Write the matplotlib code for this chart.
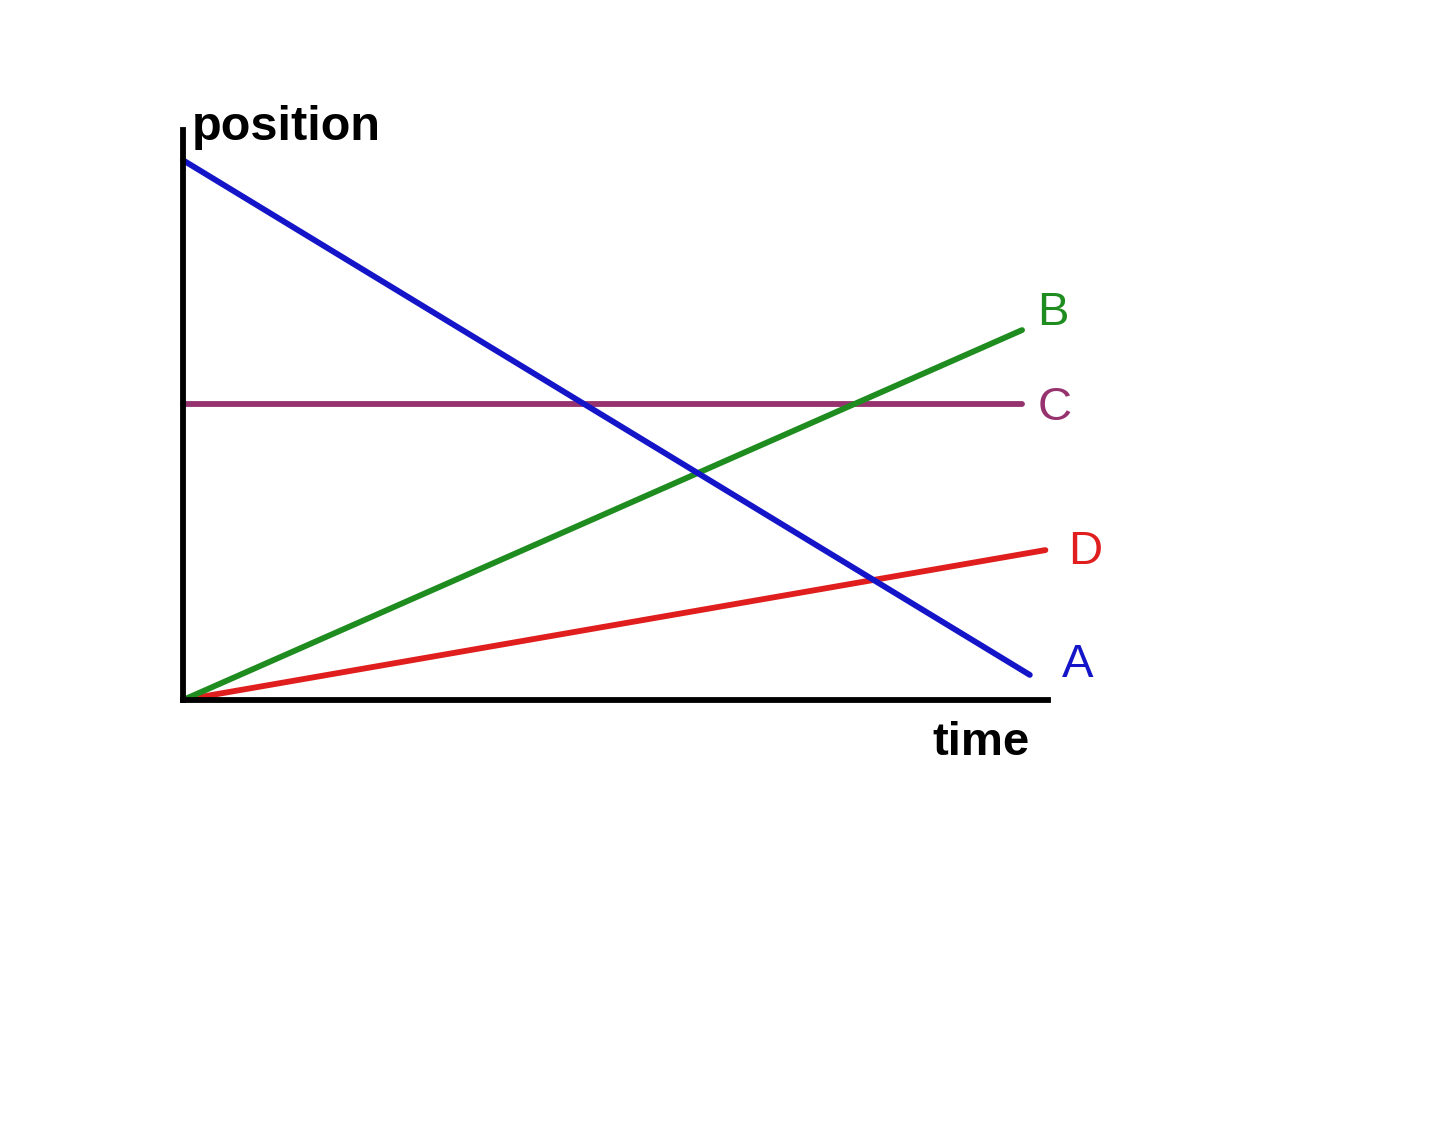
import matplotlib
matplotlib.use("Agg")
import matplotlib.pyplot as plt

# data (time, position) in arbitrary units
series_names = ["A", "B", "C", "D"]
a_time = [0.0, 9.79]
a_pos = [9.47, 0.44]
b_time = [0.0, 9.70]
b_pos = [0.0, 6.49]
c_time = [0.0, 9.70]
c_pos = [5.19, 5.19]
d_time = [0.0, 9.97]
d_pos = [0.0, 2.63]

colors = {"A": "#1414c8", "B": "#1e8c1e", "C": "#96336e", "D": "#e01e1e"}

plt.rcParams['font.family'] = ['Liberation Sans', 'DejaVu Sans']

fig = plt.figure(figsize=(14.4, 11.23), dpi=100)
ax = fig.add_axes([183/1440, 1 - 700/1123, 865/1440, 570/1123])
ax.set_xlim(0, 10)
ax.set_ylim(0, 10)

lw = 4.2
ax.plot(c_time, c_pos, color=colors["C"], lw=lw, solid_capstyle='round', clip_on=False)
ax.plot(d_time, d_pos, color=colors["D"], lw=lw, solid_capstyle='round', clip_on=False)
ax.plot(b_time, b_pos, color=colors["B"], lw=lw, solid_capstyle='round', clip_on=False)
ax.plot(a_time, a_pos, color=colors["A"], lw=lw, solid_capstyle='round', clip_on=False)

for s in ["top", "right"]:
    ax.spines[s].set_visible(False)
for s in ["left", "bottom"]:
    ax.spines[s].set_linewidth(4.2)
    ax.spines[s].set_color("black")
    ax.spines[s].set_zorder(5)
ax.set_xticks([])
ax.set_yticks([])

ax.text(0.10, 9.82, "position", fontsize=35, fontweight='bold', ha='left', va='baseline')
ax.text(9.79, -0.96, "time", fontsize=34, fontweight='bold', ha='right', va='baseline')

ax.text(9.88, 6.79, "B", fontsize=34, color=colors["B"], ha='left', va='center')
ax.text(9.88, 5.12, "C", fontsize=34, color=colors["C"], ha='left', va='center')
ax.text(10.23, 2.60, "D", fontsize=34, color=colors["D"], ha='left', va='center')
ax.text(10.16, 0.61, "A", fontsize=34, color=colors["A"], ha='left', va='center')

fig.savefig("out.png", dpi=100, facecolor='white')
